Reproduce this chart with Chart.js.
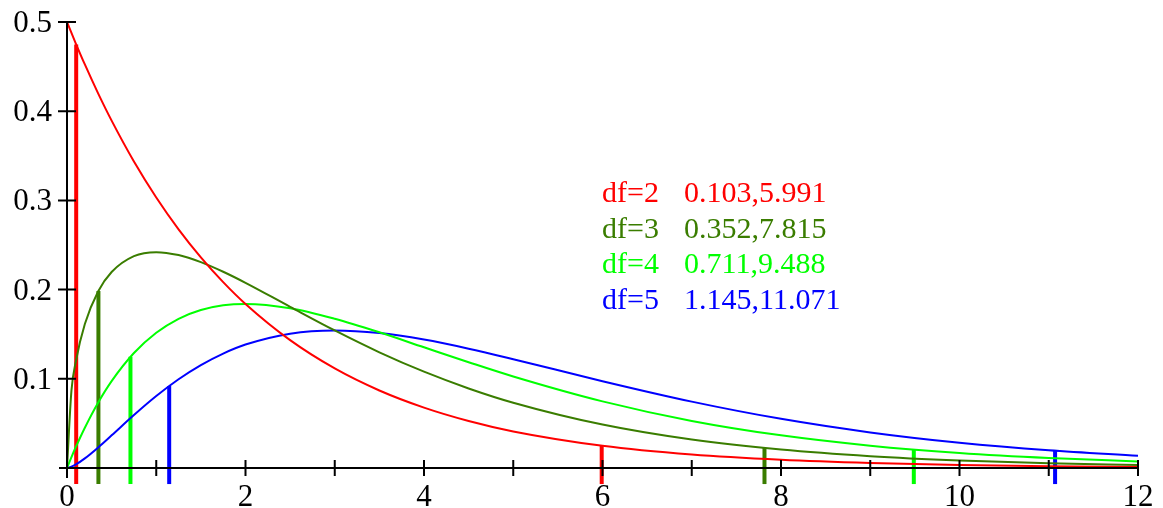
<!DOCTYPE html>
<html>
<head>
<meta charset="utf-8">
<script src="https://cdn.jsdelivr.net/npm/chart.js@4"></script>
<style>
  html, body { margin: 0; padding: 0; background: #fff; }
  canvas { display: block; }
</style>
</head>
<body>
<canvas id="chi" width="1163" height="508"></canvas>
<script>
const xs = [0, 0.05, 0.1, 0.2, 0.35, 0.5, 0.75, 1, 1.25, 1.5, 1.75, 2, 2.5, 3, 3.5, 4, 4.5, 5, 6, 7, 8, 9, 10, 11, 12];

const df2 = [0.5, 0.4877, 0.4756, 0.4524, 0.4197, 0.3894, 0.3436, 0.3033, 0.2676, 0.2362, 0.2084, 0.1839, 0.1433, 0.1116, 0.0869, 0.0677, 0.0527, 0.0410, 0.0249, 0.0151, 0.0092, 0.0056, 0.0034, 0.0020, 0.0012];
const df3 = [0, 0.0870, 0.1200, 0.1614, 0.1981, 0.2197, 0.2375, 0.2420, 0.2387, 0.2308, 0.2200, 0.2076, 0.1807, 0.1542, 0.1297, 0.1080, 0.0892, 0.0732, 0.0487, 0.0319, 0.0207, 0.0133, 0.0085, 0.0054, 0.0034];
const df4 = [0, 0.0122, 0.0238, 0.0452, 0.0735, 0.0974, 0.1289, 0.1516, 0.1673, 0.1771, 0.1824, 0.1839, 0.1791, 0.1673, 0.1521, 0.1353, 0.1186, 0.1026, 0.0747, 0.0528, 0.0366, 0.0250, 0.0168, 0.0112, 0.0074];
const df5 = [0, 0.0015, 0.0040, 0.0108, 0.0231, 0.0366, 0.0594, 0.0807, 0.0995, 0.1154, 0.1283, 0.1384, 0.1506, 0.1542, 0.1513, 0.1440, 0.1338, 0.1220, 0.0973, 0.0744, 0.0551, 0.0399, 0.0283, 0.0198, 0.0137];

// critical values (lower, upper) and curve height at each
const dfNames = ['df=2', 'df=3', 'df=4', 'df=5'];
const lowCrit = [0.103, 0.352, 0.711, 1.145];
const highCrit = [5.991, 7.815, 9.488, 11.071];
const lowHeight = [0.4749, 0.1985, 0.1246, 0.0919];
const highHeight = [0.0250, 0.0224, 0.0206, 0.0193];
const critLabels = ['0.103,5.991', '0.352,7.815', '0.711,9.488', '1.145,11.071'];

const colors = ['#ff0000', '#3a7d00', '#00ff00', '#0000ff'];

const yTicks = [0.1, 0.2, 0.3, 0.4, 0.5];
const xTicks = [1, 2, 3, 4, 5, 6, 7, 8, 9, 10, 11, 12];
const xLabels = [0, 2, 4, 6, 8, 10, 12];

const FONT = '"Liberation Serif", "DejaVu Serif", serif';
const barBottom = -0.018;

function pts(ys) {
  return xs.map((x, i) => ({ x: x, y: ys[i] }));
}

let datasets = [];
[df2, df3, df4, df5].forEach((ys, i) => {
  datasets.push({
    data: pts(ys),
    borderColor: colors[i],
    borderWidth: 2,
    pointRadius: 0,
    cubicInterpolationMode: 'monotone',
    clip: false
  });
});
for (let i = 0; i < 4; i++) {
  [[lowCrit[i], lowHeight[i]], [highCrit[i], highHeight[i]]].forEach(c => {
    datasets.push({
      data: [{ x: c[0], y: barBottom }, { x: c[0], y: c[1] }],
      borderColor: colors[i],
      borderWidth: 4,
      borderCapStyle: 'butt',
      pointRadius: 0,
      clip: false
    });
  });
}

const axesPlugin = {
  id: 'axes',
  afterDatasetsDraw(chart) {
    const ctx = chart.ctx;
    const xs_ = chart.scales.x, ys_ = chart.scales.y;
    const x0 = xs_.getPixelForValue(0), y0 = ys_.getPixelForValue(0);
    ctx.save();
    ctx.strokeStyle = '#000';
    ctx.lineWidth = 2;
    ctx.beginPath();
    ctx.moveTo(x0, y0 + 10);
    ctx.lineTo(x0, ys_.getPixelForValue(0.5));
    ctx.moveTo(x0 - 8, y0);
    ctx.lineTo(xs_.getPixelForValue(12), y0);
    yTicks.forEach(v => {
      const py = ys_.getPixelForValue(v);
      ctx.moveTo(x0 - 9, py);
      ctx.lineTo(x0 + 9, py);
    });
    xTicks.forEach(v => {
      const px = xs_.getPixelForValue(v);
      ctx.moveTo(px, y0 - 8);
      ctx.lineTo(px, y0 + 8);
    });
    ctx.stroke();

    ctx.fillStyle = '#000';
    ctx.font = '31px ' + FONT;
    ctx.textAlign = 'right';
    ctx.textBaseline = 'alphabetic';
    yTicks.forEach(v => {
      ctx.fillText(v.toFixed(1), x0 - 15, ys_.getPixelForValue(v) + 10);
    });
    ctx.textAlign = 'center';
    xLabels.forEach(v => {
      ctx.fillText(String(v), xs_.getPixelForValue(v), y0 + 38);
    });

    ctx.font = '30px ' + FONT;
    ctx.textAlign = 'left';
    dfNames.forEach((n, i) => {
      const by = 202 + i * 35.5;
      ctx.fillStyle = colors[i];
      ctx.fillText(n, 602, by);
      ctx.fillText(critLabels[i], 684, by);
    });
    ctx.restore();
  }
};

new Chart(document.getElementById('chi'), {
  type: 'line',
  data: { datasets: datasets },
  options: {
    responsive: false,
    animation: false,
    devicePixelRatio: 1,
    layout: { padding: { left: 67, right: 25, top: 22, bottom: 40 } },
    plugins: { legend: { display: false }, tooltip: { enabled: false } },
    scales: {
      x: { type: 'linear', min: 0, max: 12, display: false },
      y: { type: 'linear', min: 0, max: 0.5, display: false }
    }
  },
  plugins: [axesPlugin]
});
</script>
</body>
</html>
